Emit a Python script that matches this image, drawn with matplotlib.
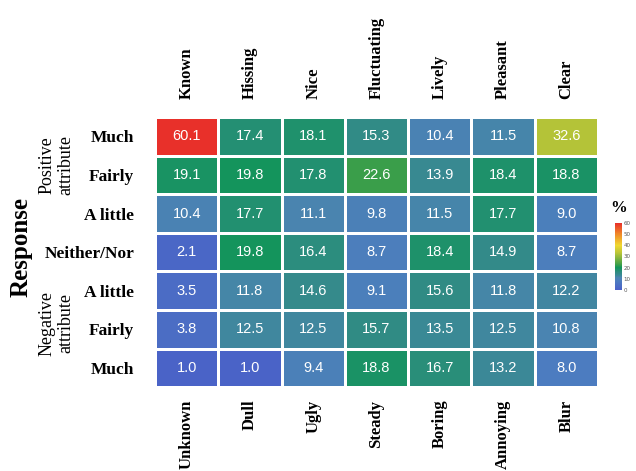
import numpy as np
import matplotlib
matplotlib.use("Agg")
import matplotlib.pyplot as plt
from matplotlib.colors import LinearSegmentedColormap

# attributes: positive pole on top, negative pole at the bottom
top_labels = ["Known", "Hissing", "Nice", "Fluctuating", "Lively", "Pleasant", "Clear"]
bottom_labels = ["Unknown", "Dull", "Ugly", "Steady", "Boring", "Annoying", "Blur"]
row_labels = ["Much", "Fairly", "A little", "Neither/Nor", "A little", "Fairly", "Much"]

# percentages, one list per response row (top to bottom)
much_pos = [60.1, 17.4, 18.1, 15.3, 10.4, 11.5, 32.6]
fairly_pos = [19.1, 19.8, 17.8, 22.6, 13.9, 18.4, 18.8]
little_pos = [10.4, 17.7, 11.1, 9.8, 11.5, 17.7, 9.0]
neither = [2.1, 19.8, 16.4, 8.7, 18.4, 14.9, 8.7]
little_neg = [3.5, 11.8, 14.6, 9.1, 15.6, 11.8, 12.2]
fairly_neg = [3.8, 12.5, 12.5, 15.7, 13.5, 12.5, 10.8]
much_neg = [1.0, 1.0, 9.4, 18.8, 16.7, 13.2, 8.0]

values = np.array([much_pos, fairly_pos, little_pos, neither,
                   little_neg, fairly_neg, much_neg])

# blue -> green -> yellow -> red, roughly like the original scale
stops = [(0, "#4a60c8"), (8, "#4c7cc0"), (11, "#4a84b0"), (13, "#3c8898"),
         (16, "#2e8c80"), (20, "#12955a"), (23, "#40a048"), (33, "#b8c438"),
         (40, "#f0d830"), (50, "#f08a28"), (60, "#e8302a")]
cmap = LinearSegmentedColormap.from_list("resp", [(v / 60, c) for v, c in stops])

serif = ["Liberation Serif", "DejaVu Serif"]
narrow = ["Liberation Sans Narrow", "Liberation Sans", "DejaVu Sans"]

fig = plt.figure(figsize=(6.36, 4.71), dpi=100)
ax = fig.add_axes([0.2437, 0.178, 0.6965, 0.5735])

nrows, ncols = values.shape
mesh = ax.pcolormesh(values, cmap=cmap, vmin=0, vmax=60,
                     edgecolors="white", linewidth=0.9)
ax.set_xlim(0, ncols)
ax.set_ylim(nrows, 0)

for i in range(nrows):
    for j in range(ncols):
        ax.text(j + 0.5, i + 0.5, f"{values[i, j]:.1f}", ha="center", va="center",
                color="white", fontsize=10.5, family=narrow)

for s in ax.spines.values():
    s.set_visible(False)
ax.set_xticks(np.arange(ncols) + 0.5)
ax.set_yticks(np.arange(nrows) + 0.5)
ax.tick_params(length=0)
ax.set_xticklabels([])
ax.set_yticklabels(row_labels, family=serif, fontweight="bold", fontsize=12.5)
ax.tick_params(axis="y", pad=15)

for j in range(ncols):
    ax.annotate(top_labels[j], (j + 0.5, 0), xytext=(0, 13), textcoords="offset points",
                rotation=90, ha="center", va="bottom", family=serif,
                fontweight="bold", fontsize=12)
    ax.annotate(bottom_labels[j], (j + 0.5, nrows), xytext=(0, -9), textcoords="offset points",
                rotation=90, ha="center", va="top", family=serif,
                fontweight="bold", fontsize=12, annotation_clip=False)

fig.text(21 / 636, 1 - 247 / 471, "Response", rotation=90, ha="center", va="center",
         family=serif, fontweight="bold", fontsize=18)
fig.text(56 / 636, 1 - 165 / 471, "Positive\nattribute", rotation=90, ha="center",
         va="center", family=serif, fontsize=13, linespacing=1.15)
fig.text(56 / 636, 1 - 323 / 471, "Negative\nattribute", rotation=90, ha="center",
         va="center", family=serif, fontsize=13, linespacing=1.15)

cax = fig.add_axes([615 / 636, 1 - 290 / 471, 7 / 636, 67 / 471])
cb = fig.colorbar(mesh, cax=cax, ticks=np.arange(0, 61, 10))
cb.outline.set_visible(False)
cax.tick_params(length=0, labelsize=4, pad=1, labelcolor="#555555")
fig.text(619 / 636, 1 - 208 / 471, "%", ha="center", va="center",
         family=serif, fontweight="bold", fontsize=12)

fig.savefig("out.png", dpi=100)
